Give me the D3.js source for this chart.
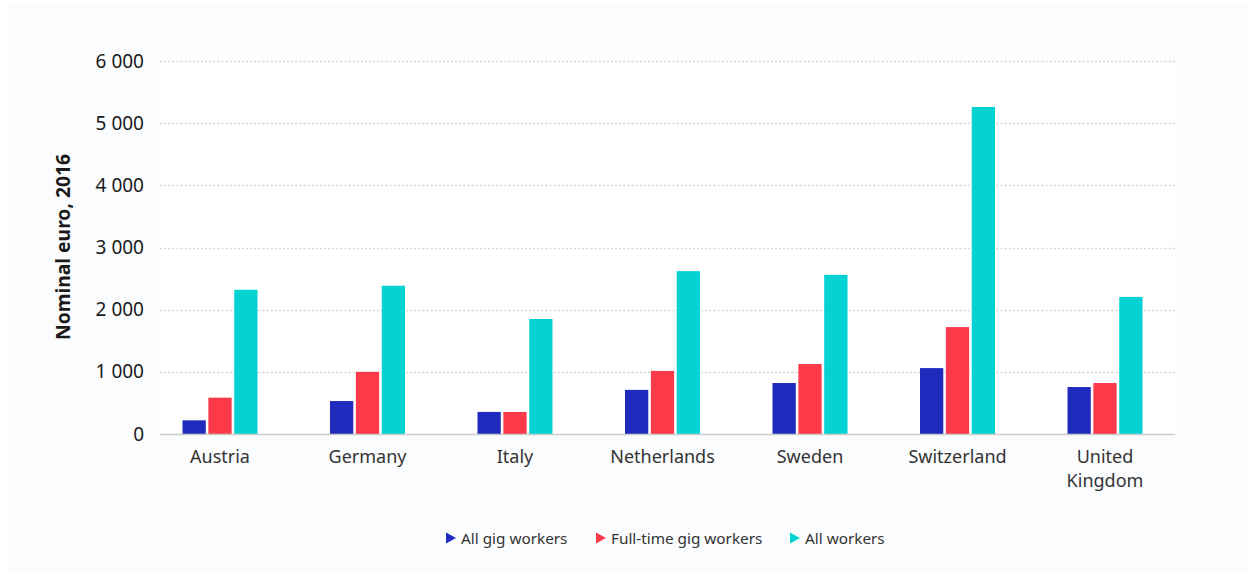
<!DOCTYPE html>
<html>
<head>
<meta charset="utf-8">
<script src="https://cdn.jsdelivr.net/npm/d3@7"></script>
<style>
  html, body { margin: 0; padding: 0; background: #ffffff; }
  svg { display: block; font-family: "Noto Sans", "Open Sans", sans-serif; }
</style>
</head>
<body>
<svg id="chart" width="1248" height="575"></svg>
<script>
// Monthly earnings by country, nominal euro 2016
const countries = ["Austria", "Germany", "Italy", "Netherlands", "Sweden", "Switzerland", "United Kingdom"];
const seriesNames = ["All gig workers", "Full-time gig workers", "All workers"];
const allGigWorkers      = [220, 530, 355, 710, 820, 1060, 755];
const fullTimeGigWorkers = [585, 1000, 355, 1015, 1125, 1720, 820];
const allWorkers         = [2320, 2385, 1850, 2620, 2560, 5260, 2205];
const yTicks = [0, 1000, 2000, 3000, 4000, 5000, 6000];
const colors = ["#1f2bbd", "#fd3a4a", "#05d3d3"];

const values = [allGigWorkers, fullTimeGigWorkers, allWorkers];
const rows = countries.map((c, i) => ({
  country: c,
  vals: seriesNames.map((s, j) => ({ key: s, value: values[j][i], color: colors[j] }))
}));

const svg = d3.select("#chart");

// Panel backgrounds
svg.append("rect").attr("x", 8).attr("y", 4).attr("width", 1240).attr("height", 570).attr("fill", "#fbfcfe");
const plot = { left: 160, right: 1175, top: 61, bottom: 434 };
svg.append("rect").attr("x", plot.left).attr("y", plot.top)
  .attr("width", plot.right - plot.left).attr("height", plot.bottom - plot.top).attr("fill", "#ffffff");

const y = d3.scaleLinear().domain([0, 6000]).range([plot.bottom, plot.top]);
const x0 = d3.scaleBand().domain(countries).range([146.25, 1178.75]).padding(0);
const x1 = d3.scaleBand().domain(seriesNames).range([-37.5, 37.5]).paddingInner(0.1).paddingOuter(0);

const fmt = v => d3.format(",")(v).replace(/,/g, " ");

// Value axis labels
const yAxis = d3.axisLeft(y).tickValues(yTicks).tickFormat(fmt).tickSize(0).tickPadding(16);
const gy = svg.append("g").attr("transform", `translate(${plot.left},0)`).call(yAxis);
gy.select(".domain").remove();
gy.selectAll(".tick text").attr("font-size", 19).attr("fill", "#1a1a1a")
  .attr("font-family", "Noto Sans, sans-serif");

// Gridlines
svg.append("g").selectAll("line").data(yTicks.filter(t => t > 0)).join("line")
  .attr("x1", plot.left).attr("x2", plot.right)
  .attr("y1", d => Math.round(y(d)) + 0.5).attr("y2", d => Math.round(y(d)) + 0.5)
  .attr("stroke", "#d4d4d4").attr("stroke-width", 1.3).attr("stroke-dasharray", "2,2.1");

// Bars
const groups = svg.append("g").selectAll("g").data(rows).join("g")
  .attr("transform", d => `translate(${x0(d.country) + x0.bandwidth() / 2},0)`);
groups.selectAll("rect").data(d => d.vals).join("rect")
  .attr("x", d => x1(d.key))
  .attr("width", x1.bandwidth())
  .attr("y", d => y(d.value))
  .attr("height", d => y(0) - y(d.value))
  .attr("fill", d => d.color);

// Baseline
svg.append("line").attr("x1", plot.left).attr("x2", plot.right)
  .attr("y1", plot.bottom + 0.5).attr("y2", plot.bottom + 0.5)
  .attr("stroke", "#cccccc").attr("stroke-width", 1.6);

// Category labels (wrapped)
const xAxis = d3.axisBottom(x0).tickSize(0).tickPadding(0);
const gx = svg.append("g").attr("transform", `translate(0,${plot.bottom})`).call(xAxis);
gx.select(".domain").remove();
gx.selectAll(".tick text").each(function(d) {
  const t = d3.select(this).text(null)
    .attr("font-size", 18).attr("fill", "#333333").attr("font-family", "Noto Sans, sans-serif")
    .attr("dy", null);
  const words = d === "United Kingdom" ? ["United", "Kingdom"] : [d];
  words.forEach((w, i) => t.append("tspan").attr("x", 0).attr("y", 29 + i * 24).text(w));
});

// Axis title
svg.append("text")
  .attr("transform", "translate(70,247) rotate(-90)")
  .attr("text-anchor", "middle")
  .attr("font-size", 19.3).attr("font-weight", "bold").attr("fill", "#1a1a1a")
  .text("Nominal euro, 2016");

// Legend
const legendItems = [
  { name: seriesNames[0], color: colors[0], x: 446 },
  { name: seriesNames[1], color: colors[1], x: 596 },
  { name: seriesNames[2], color: colors[2], x: 790 }
];
const lg = svg.append("g").selectAll("g").data(legendItems).join("g")
  .attr("transform", d => `translate(${d.x},538)`);
lg.append("path").attr("d", "M0,-5.5 L10,0 L0,5.5 Z").attr("fill", d => d.color);
lg.append("text").attr("x", 15).attr("y", 5.5)
  .attr("font-size", 15.3).attr("fill", "#333333").text(d => d.name);
</script>
</body>
</html>
